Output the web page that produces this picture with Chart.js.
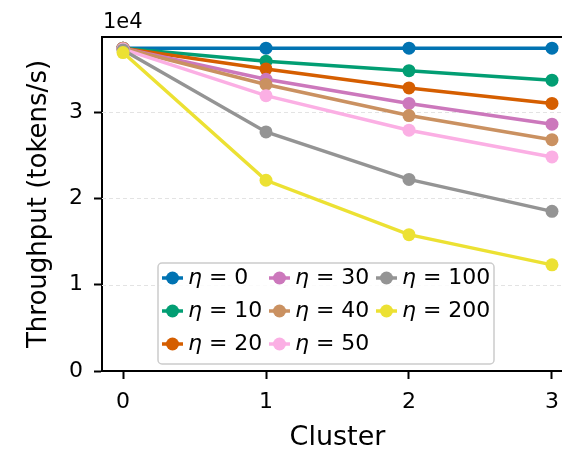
<!DOCTYPE html>
<html>
<head>
<meta charset="utf-8">
<script src="https://cdn.jsdelivr.net/npm/chart.js@4"></script>
<style>
  html, body { margin: 0; padding: 0; background: #fff; overflow: hidden; }
  #wrap { width: 562px; height: 451px; overflow: hidden; }
</style>
</head>
<body>
<div id="wrap"><canvas id="chart" width="590" height="451"></canvas></div>
<script>
// cluster index on x, throughput (tokens/s) on y
const clusters = [0, 1, 2, 3];
const eta0   = [37400, 37400, 37400, 37400];
const eta10  = [37400, 35900, 34800, 33700];
const eta20  = [37400, 35000, 32800, 31000];
const eta30  = [37400, 33800, 31000, 28600];
const eta40  = [37400, 33200, 29600, 26800];
const eta50  = [37300, 31900, 27900, 24800];
const eta100 = [37200, 27700, 22200, 18500];
const eta200 = [36900, 22100, 15800, 12300];

const etaLabels = ['0', '10', '20', '30', '40', '50', '100', '200'];
const xTicks = [0, 1, 2, 3];
const yTicks = [0, 10000, 20000, 30000];

const seriesValues = [eta0, eta10, eta20, eta30, eta40, eta50, eta100, eta200];
const colors = ['#0173b2', '#029e73', '#d55e00', '#cc78bc', '#ca9161', '#fbafe4', '#949494', '#ece133'];

const FONT = "'DejaVu Sans', sans-serif";

const datasets = seriesValues.map((vals, i) => ({
    label: 'η = ' + etaLabels[i],
    data: clusters.map((c, j) => ({ x: c, y: vals[j] })),
    borderColor: colors[i],
    backgroundColor: colors[i],
    borderWidth: 3.5,
    pointRadius: 6.5,
    pointBorderWidth: 0,
    pointBackgroundColor: colors[i],
    order: seriesValues.length - i   // later series drawn on top
}));

// dashed grid, top/right spines, offset text and the legend
const decorations = {
    id: 'decorations',
    beforeDatasetsDraw(chart) {
        const { ctx, chartArea } = chart;
        const y = chart.scales.y;
        ctx.save();
        ctx.strokeStyle = '#e3e3e3';
        ctx.lineWidth = 1;
        ctx.setLineDash([4, 3]);
        yTicks.forEach(v => {
            if (v === 0) return;
            const py = Math.round(y.getPixelForValue(v)) + 0.5;
            ctx.beginPath();
            ctx.moveTo(chartArea.left, py);
            ctx.lineTo(chartArea.right, py);
            ctx.stroke();
        });
        ctx.restore();
    },
    afterDraw(chart) {
        const { ctx, chartArea } = chart;
        ctx.save();
        // top and right spines
        ctx.strokeStyle = '#000';
        ctx.lineWidth = 2;
        ctx.beginPath();
        ctx.moveTo(chartArea.left, chartArea.top);
        ctx.lineTo(chartArea.right, chartArea.top);
        ctx.lineTo(chartArea.right, chartArea.bottom);
        ctx.stroke();

        // scientific offset label
        ctx.fillStyle = '#000';
        ctx.font = '21px ' + FONT;
        ctx.textAlign = 'left';
        ctx.textBaseline = 'alphabetic';
        ctx.fillText('1e4', chartArea.left + 1, chartArea.top - 9);

        // legend box
        const bx = chartArea.left + 56, by = chartArea.bottom - 108;
        const bw = 336, bh = 101, r = 4;
        ctx.beginPath();
        ctx.moveTo(bx + r, by);
        ctx.arcTo(bx + bw, by, bx + bw, by + bh, r);
        ctx.arcTo(bx + bw, by + bh, bx, by + bh, r);
        ctx.arcTo(bx, by + bh, bx, by, r);
        ctx.arcTo(bx, by, bx + bw, by, r);
        ctx.closePath();
        ctx.fillStyle = 'rgba(255,255,255,0.85)';
        ctx.fill();
        ctx.strokeStyle = '#cccccc';
        ctx.lineWidth = 1.5;
        ctx.stroke();

        const columns = [[0, 1, 2], [3, 4, 5], [6, 7]];
        columns.forEach((col, ci) => {
            col.forEach((idx, ri) => {
                const mx = bx + 4 + ci * 107;
                const my = by + 15 + ri * 33;
                ctx.strokeStyle = colors[idx];
                ctx.lineWidth = 3.5;
                ctx.beginPath();
                ctx.moveTo(mx, my);
                ctx.lineTo(mx + 21, my);
                ctx.stroke();
                ctx.fillStyle = colors[idx];
                ctx.beginPath();
                ctx.arc(mx + 10.5, my, 6.5, 0, Math.PI * 2);
                ctx.fill();

                ctx.fillStyle = '#000';
                ctx.textBaseline = 'middle';
                let tx = mx + 26;
                ctx.font = 'italic 22px ' + FONT;
                ctx.fillText('η', tx, my);
                tx += ctx.measureText('η').width;
                ctx.font = '22px ' + FONT;
                ctx.fillText(' = ' + etaLabels[idx], tx, my);
            });
        });
        ctx.restore();
    }
};

new Chart(document.getElementById('chart'), {
    type: 'line',
    data: { datasets },
    options: {
        responsive: false,
        animation: false,
        devicePixelRatio: 1,
        layout: { padding: { left: 0, top: 37, right: 17, bottom: 0 } },
        plugins: {
            legend: { display: false },
            tooltip: { enabled: false }
        },
        scales: {
            x: {
                type: 'linear',
                min: -0.147,
                max: 3.147,
                afterBuildTicks: s => { s.ticks = xTicks.map(v => ({ value: v })); },
                afterFit: s => { s.height = 80; },
                ticks: {
                    color: '#000',
                    font: { family: FONT, size: 22 },
                    padding: 10,
                    callback: v => String(v)
                },
                grid: {
                    drawOnChartArea: false,
                    tickColor: '#000',
                    tickLength: 8,
                    tickWidth: 2
                },
                border: { color: '#000', width: 2 },
                title: {
                    display: true,
                    text: 'Cluster',
                    color: '#000',
                    font: { family: FONT, size: 27, lineHeight: 1.0 },
                    padding: { top: 0, bottom: 0 }
                }
            },
            y: {
                min: 0,
                max: 38700,
                afterBuildTicks: s => { s.ticks = yTicks.map(v => ({ value: v })); },
                afterFit: s => { s.width = 102; },
                ticks: {
                    color: '#000',
                    font: { family: FONT, size: 22 },
                    padding: 11,
                    callback: v => String(v / 10000)
                },
                grid: {
                    drawOnChartArea: false,
                    tickColor: '#000',
                    tickLength: 8,
                    tickWidth: 2
                },
                border: { color: '#000', width: 2 },
                title: {
                    display: true,
                    text: 'Throughput (tokens/s)',
                    color: '#000',
                    font: { family: FONT, size: 26 },
                    padding: { top: 24, bottom: 0 }
                }
            }
        }
    },
    plugins: [decorations]
});
</script>
</body>
</html>
